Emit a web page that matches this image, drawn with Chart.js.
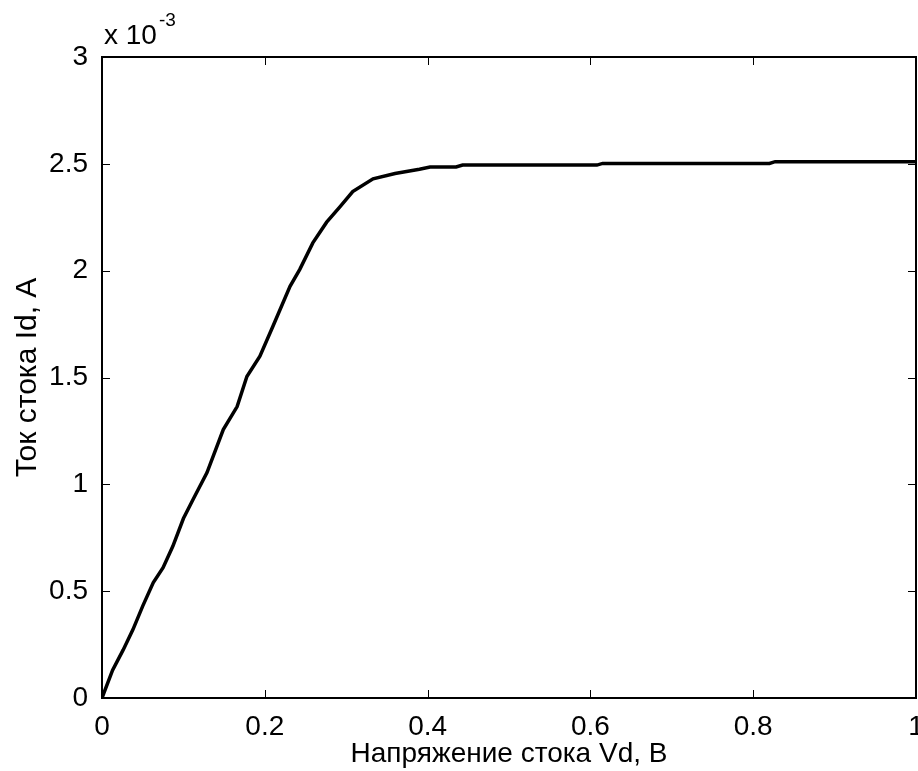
<!DOCTYPE html>
<html>
<head>
<meta charset="utf-8">
<script src="https://cdn.jsdelivr.net/npm/chart.js@4"></script>
<style>
  html, body { margin: 0; padding: 0; background: #fff; }
  #wrap { width: 918px; height: 771px; }
</style>
</head>
<body>
<div id="wrap"><canvas id="idChart"></canvas></div>
<script>
// Напряжение стока, В
const vdValues = [0, 0.013, 0.026, 0.038, 0.05, 0.063, 0.075, 0.087, 0.1, 0.112,
  0.129, 0.149, 0.166, 0.178, 0.194, 0.21, 0.231, 0.243, 0.259, 0.276,
  0.292, 0.308, 0.333, 0.36, 0.39, 0.403, 0.435, 0.443, 0.608, 0.615,
  0.82, 0.827, 1.0];
// Ток стока, x 10^-3 A
const idValues = [0, 0.13, 0.225, 0.32, 0.43, 0.54, 0.61, 0.71, 0.84, 0.93,
  1.055, 1.256, 1.364, 1.505, 1.6, 1.74, 1.927, 2.006, 2.13, 2.227,
  2.297, 2.37, 2.43, 2.455, 2.475, 2.485, 2.485, 2.494, 2.494, 2.502,
  2.502, 2.51, 2.51];
const xTicks = [0, 0.2, 0.4, 0.6, 0.8, 1];
const yTicks = [0, 0.5, 1, 1.5, 2, 2.5, 3];

const FONT = "'Liberation Sans', Arial, sans-serif";
const points = vdValues.map((v, i) => ({ x: v, y: idValues[i] }));

// рамка, внутренние засечки и множитель x 10^-3
const matlabBox = {
  id: "matlabBox",
  afterDraw(chart) {
    const { ctx, chartArea: a, scales } = chart;
    ctx.save();
    ctx.strokeStyle = "#000";
    ctx.lineWidth = 1;
    const len = 8;
    xTicks.forEach((t) => {
      const px = Math.round(scales.x.getPixelForValue(t)) + 0.5;
      ctx.beginPath();
      ctx.moveTo(px, a.bottom); ctx.lineTo(px, a.bottom - len);
      ctx.moveTo(px, a.top); ctx.lineTo(px, a.top + len);
      ctx.stroke();
    });
    yTicks.forEach((t) => {
      const py = Math.round(scales.y.getPixelForValue(t)) + 0.5;
      ctx.beginPath();
      ctx.moveTo(a.left, py); ctx.lineTo(a.left + len, py);
      ctx.moveTo(a.right, py); ctx.lineTo(a.right - len, py);
      ctx.stroke();
    });
    ctx.lineWidth = 2;
    ctx.strokeRect(a.left, a.top, a.right - a.left, a.bottom - a.top);

    ctx.fillStyle = "#000";
    ctx.textBaseline = "alphabetic";
    ctx.textAlign = "left";
    ctx.font = "28px " + FONT;
    ctx.fillText("x 10", a.left + 2, a.top - 13);
    const w = ctx.measureText("x 10").width;
    ctx.font = "19px " + FONT;
    ctx.fillText("-3", a.left + 4 + w, a.top - 31);
    ctx.restore();
  },
};

const config = {
  type: "scatter",
  data: {
    datasets: [
      {
        data: points,
        showLine: true,
        borderColor: "#000",
        borderWidth: 3.5,
        pointRadius: 0,
        tension: 0,
        fill: false,
      },
    ],
  },
  options: {
    responsive: true,
    maintainAspectRatio: false,
    animation: false,
    layout: { padding: { top: 57, right: 2, left: 0, bottom: 0 } },
    plugins: {
      legend: { display: false },
      tooltip: { enabled: false },
    },
    scales: {
      x: {
        type: "linear",
        min: 0,
        max: 1,
        afterBuildTicks: (s) => { s.ticks = xTicks.map((v) => ({ value: v })); },
        afterFit: (s) => { s.height = 73; s.paddingLeft = 0; s.paddingRight = 0; },
        grid: { display: false },
        border: { display: false },
        ticks: {
          color: "#000",
          font: { family: FONT, size: 28 },
          padding: 4,
          maxRotation: 0,
          callback: (v) => String(v),
        },
        title: {
          display: true,
          text: "Напряжение стока Vd, В",
          color: "#000",
          font: { family: FONT, size: 28 },
          padding: { top: 0, bottom: 0 },
        },
      },
      y: {
        type: "linear",
        min: 0,
        max: 3,
        afterBuildTicks: (s) => { s.ticks = yTicks.map((v) => ({ value: v })); },
        afterFit: (s) => { s.width = 102; s.paddingTop = 0; s.paddingBottom = 0; },
        grid: { display: false },
        border: { display: false },
        ticks: {
          color: "#000",
          font: { family: FONT, size: 28 },
          padding: 6,
          callback: (v) => String(v),
        },
        title: {
          display: true,
          text: "Ток стока Id, A",
          color: "#000",
          font: { family: FONT, size: 30 },
          padding: { top: 10, bottom: 6 },
        },
      },
    },
  },
  plugins: [matlabBox],
};

new Chart(document.getElementById("idChart"), config);
</script>
</body>
</html>
